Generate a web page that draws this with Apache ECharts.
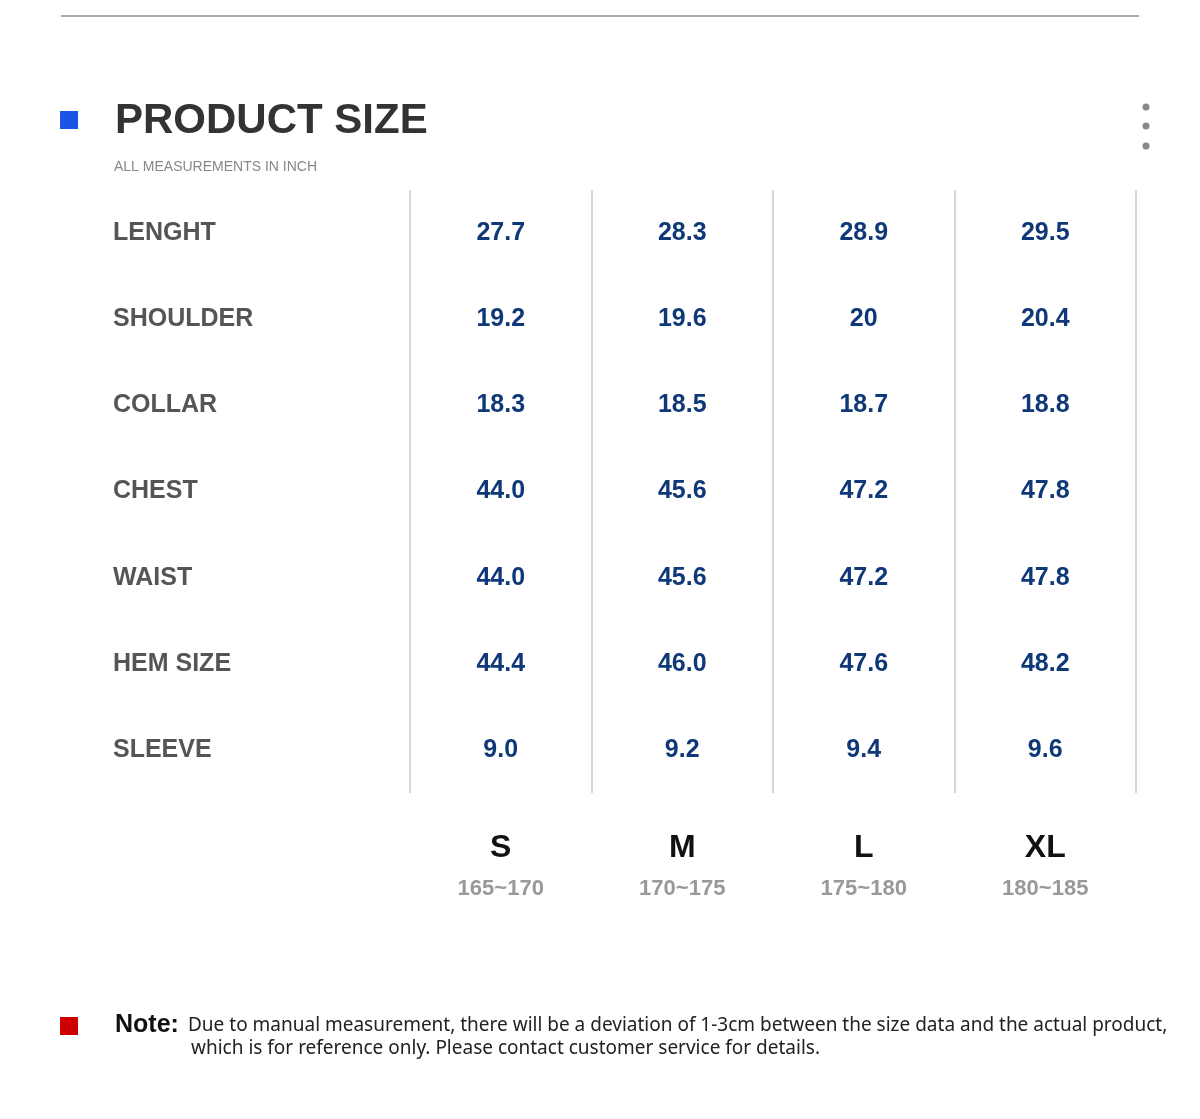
<!DOCTYPE html>
<html><head><meta charset="utf-8">
<script src="https://cdn.jsdelivr.net/npm/echarts@6/dist/echarts.min.js"></script>
<style>html,body{margin:0;padding:0;background:#fff}#c{width:1200px;height:1119px}</style>
</head><body><div id="c"></div>
<script>
const sizes = ['S','M','L','XL'];
const heights = ['165~170','170~175','175~180','180~185'];
const rows = ['LENGHT','SHOULDER','COLLAR','CHEST','WAIST','HEM SIZE','SLEEVE'];
const lenght = ['27.7','28.3','28.9','29.5'];
const shoulder = ['19.2','19.6','20','20.4'];
const collar = ['18.3','18.5','18.7','18.8'];
const chest = ['44.0','45.6','47.2','47.8'];
const waist = ['44.0','45.6','47.2','47.8'];
const hem = ['44.4','46.0','47.6','48.2'];
const sleeve = ['9.0','9.2','9.4','9.6'];
const table = [lenght, shoulder, collar, chest, waist, hem, sleeve];
const data = [];
table.forEach((r, ri) => r.forEach((v, ci) => data.push({value:[ci, ri], label:v})));
const chart = echarts.init(document.getElementById('c'));
const F = '"Liberation Sans", Arial, sans-serif';
chart.setOption({
  animation:false,
  grid:{left:410,right:64,top:190,bottom:326},
  xAxis:{type:'category',data:sizes.map((s,i)=>s+'\n'+heights[i]),position:'bottom',
    axisLine:{show:false},axisTick:{show:false},
    splitLine:{show:true,lineStyle:{color:'#c8c8c8',width:1.5}},
    axisLabel:{margin:34,interval:0,formatter:(v)=>{const p=v.split('\n');return '{a|'+p[0]+'}\n{b|'+p[1]+'}';},
      rich:{a:{fontSize:32,fontWeight:'bold',color:'#111',fontFamily:F,lineHeight:42},
            b:{fontSize:22,color:'#999',fontFamily:F,lineHeight:40,fontWeight:'bold',letterSpacing:2.5}}}},
  yAxis:{type:'category',data:rows,inverse:true,axisLine:{show:false},axisTick:{show:false},splitLine:{show:false},
    axisLabel:{align:'left',margin:297,fontSize:25,fontWeight:'bold',color:'#555',fontFamily:F,letterSpacing:2}},
  series:[{type:'scatter',symbolSize:1,itemStyle:{color:'rgba(0,0,0,0)',opacity:1},data:data,
    label:{show:true,position:'inside',formatter:p=>p.data.label,fontSize:25,fontWeight:'bold',color:'#0e3878',opacity:1,fontFamily:F}}],
  graphic:[
    {type:'line',shape:{x1:61,y1:16,x2:1139,y2:16},style:{stroke:'#aaa',lineWidth:2}},
    {type:'rect',shape:{x:60,y:111,width:18,height:18},style:{fill:'#1c55e6'}},
    {type:'text',left:115,top:100,style:{text:'PRODUCT SIZE',fontSize:42,fontWeight:'bold',fill:'#333',fontFamily:F,letterSpacing:5}},
    {type:'text',left:114,top:160,style:{text:'ALL MEASUREMENTS IN INCH',fontSize:14,fill:'#888',fontFamily:F}},
    {type:'circle',shape:{cx:1146,cy:107,r:3.5},style:{fill:'#888'}},
    {type:'circle',shape:{cx:1146,cy:126,r:3.5},style:{fill:'#888'}},
    {type:'circle',shape:{cx:1146,cy:146,r:3.5},style:{fill:'#888'}},
    {type:'rect',shape:{x:60,y:1017,width:18,height:18},style:{fill:'#cc0000'}},
    {type:'text',left:115,top:1013,style:{text:'Note:',fontSize:25,fontWeight:'bold',fill:'#111',fontFamily:F}},
    {type:'text',left:188,top:1016,style:{text:'Due to manual measurement, there will be a deviation of 1-3cm between the size data and the actual product,',fontSize:19,fill:'#222',fontFamily:'"Noto Sans", sans-serif'}},
    {type:'text',left:191,top:1039,style:{text:'which is for reference only. Please contact customer service for details.',fontSize:19,fill:'#222',fontFamily:'"Noto Sans", sans-serif'}}
  ]
});
</script></body></html>
